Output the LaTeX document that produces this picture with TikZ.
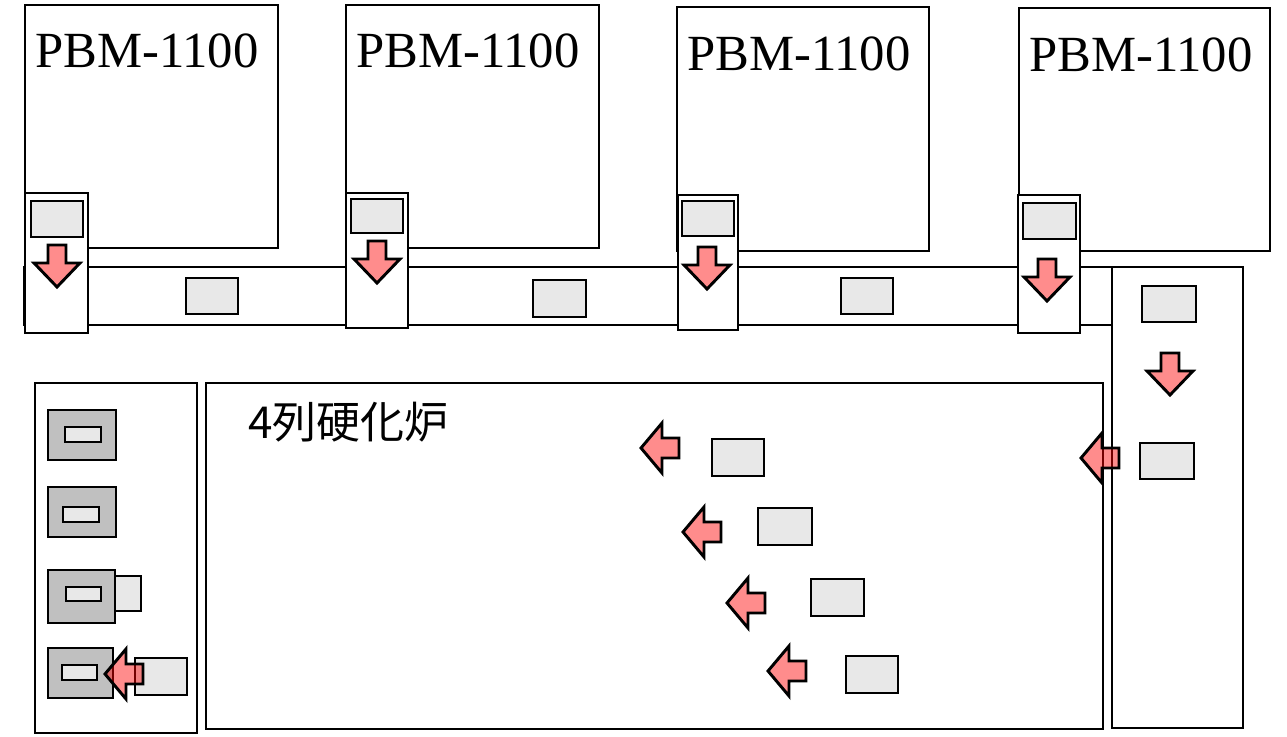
\documentclass[tikz,border=0pt]{standalone}
\usepackage{fontspec}
\setmainfont{Liberation Serif}
\newfontfamily\cjk{Noto Sans CJK JP}
\definecolor{prod}{HTML}{E8E8E8}
\definecolor{mag}{HTML}{C0C0C0}
\tikzset{
  box/.style={draw=black, line width=2.2pt, fill=white},
  prodbox/.style={draw=black, line width=2.2pt, fill=prod},
  magbox/.style={draw=black, line width=2.2pt, fill=mag},
  flowarrow/.style={draw=black, line width=2.2pt, fill=red, fill opacity=0.45, draw opacity=1, line join=miter},
  machlabel/.style={anchor=base west, inner sep=0pt, font=\fontsize{38}{40}\selectfont},
}
% left arrow, tip at (#1,#2)
\newcommand{\LArrow}[2]{%
  \draw[flowarrow] (#1,#2) -- ++(21,-25) -- ++(0,15) -- ++(17,0) -- ++(0,20) -- ++(-17,0) -- ++(0,15) -- cycle;}
% down arrow, tip at (#1,#2)
\newcommand{\DArrow}[2]{%
  \draw[flowarrow] (#1,#2) -- ++(-23,-24) -- ++(14,0) -- ++(0,-18) -- ++(18,0) -- ++(0,18) -- ++(14,0) -- cycle;}
\begin{document}
\begin{tikzpicture}[x=0.75pt,y=-0.75pt]
\useasboundingbox (0,0) rectangle (1287,737);
% machines
\draw[box] (25,5) rectangle (278,248);
\draw[box] (346,5) rectangle (599,248);
\draw[box] (677,7) rectangle (929,251);
\draw[box] (1019,8) rectangle (1270,251);
\node[machlabel] (l1) at (35,68) {PBM-1100};
\node[machlabel] (l2) at (356,68) {PBM-1100};
\node[machlabel] (l3) at (687,71) {PBM-1100};
\node[machlabel] (l4) at (1029,72) {PBM-1100};
% horizontal conveyor
\draw[box] (24,267) rectangle (1112,325);
\draw[prodbox] (186,278) rectangle (238,314);
\draw[prodbox] (533,280) rectangle (586,317);
\draw[prodbox] (841,278) rectangle (893,314);
% right conveyor
\draw[box] (1112,267) rectangle (1243,728);
\draw[prodbox] (1142,286) rectangle (1196,322);
\DArrow{1170}{395}
\draw[prodbox] (1140,443) rectangle (1194,479);
% transfer units
\draw[box] (25,193) rectangle (88,333);
\draw[prodbox] (31,201) rectangle (83,237);
\DArrow{57}{287}
\draw[box] (346,193) rectangle (408,328);
\draw[prodbox] (351,199) rectangle (403,233);
\DArrow{377}{283}
\draw[box] (678,195) rectangle (738,330);
\draw[prodbox] (682,201) rectangle (734,236);
\DArrow{707}{289}
\draw[box] (1018,195) rectangle (1080,333);
\draw[prodbox] (1023,203) rectangle (1076,239);
\DArrow{1047}{301}
% furnace
\draw[box] (206,383) rectangle (1103,729);
\node[anchor=base west, inner sep=0pt, font=\cjk\fontsize{33}{36}\selectfont] (furn) at (248,438) {4列硬化炉};
\LArrow{641}{448}
\draw[prodbox] (712,439) rectangle (764,476);
\LArrow{683}{532}
\draw[prodbox] (758,508) rectangle (812,545);
\LArrow{727}{603}
\draw[prodbox] (811,579) rectangle (864,616);
\LArrow{768}{671}
\draw[prodbox] (846,656) rectangle (898,693);
\LArrow{1081}{458}
% unloader
\draw[box] (35,383) rectangle (197,733);
\draw[magbox] (48,410) rectangle (116,460);
\draw[prodbox] (65,427) rectangle (101,442);
\draw[magbox] (48,487) rectangle (116,537);
\draw[prodbox] (63,507) rectangle (99,522);
\draw[magbox] (48,570) rectangle (115,623);
\draw[prodbox] (66,587) rectangle (101,601);
\draw[prodbox] (115,576) rectangle (141,611);
\draw[magbox] (48,648) rectangle (113,698);
\draw[prodbox] (62,665) rectangle (97,680);
\draw[prodbox] (135,658) rectangle (187,695);
\LArrow{105}{674}
\end{tikzpicture}
\end{document}
